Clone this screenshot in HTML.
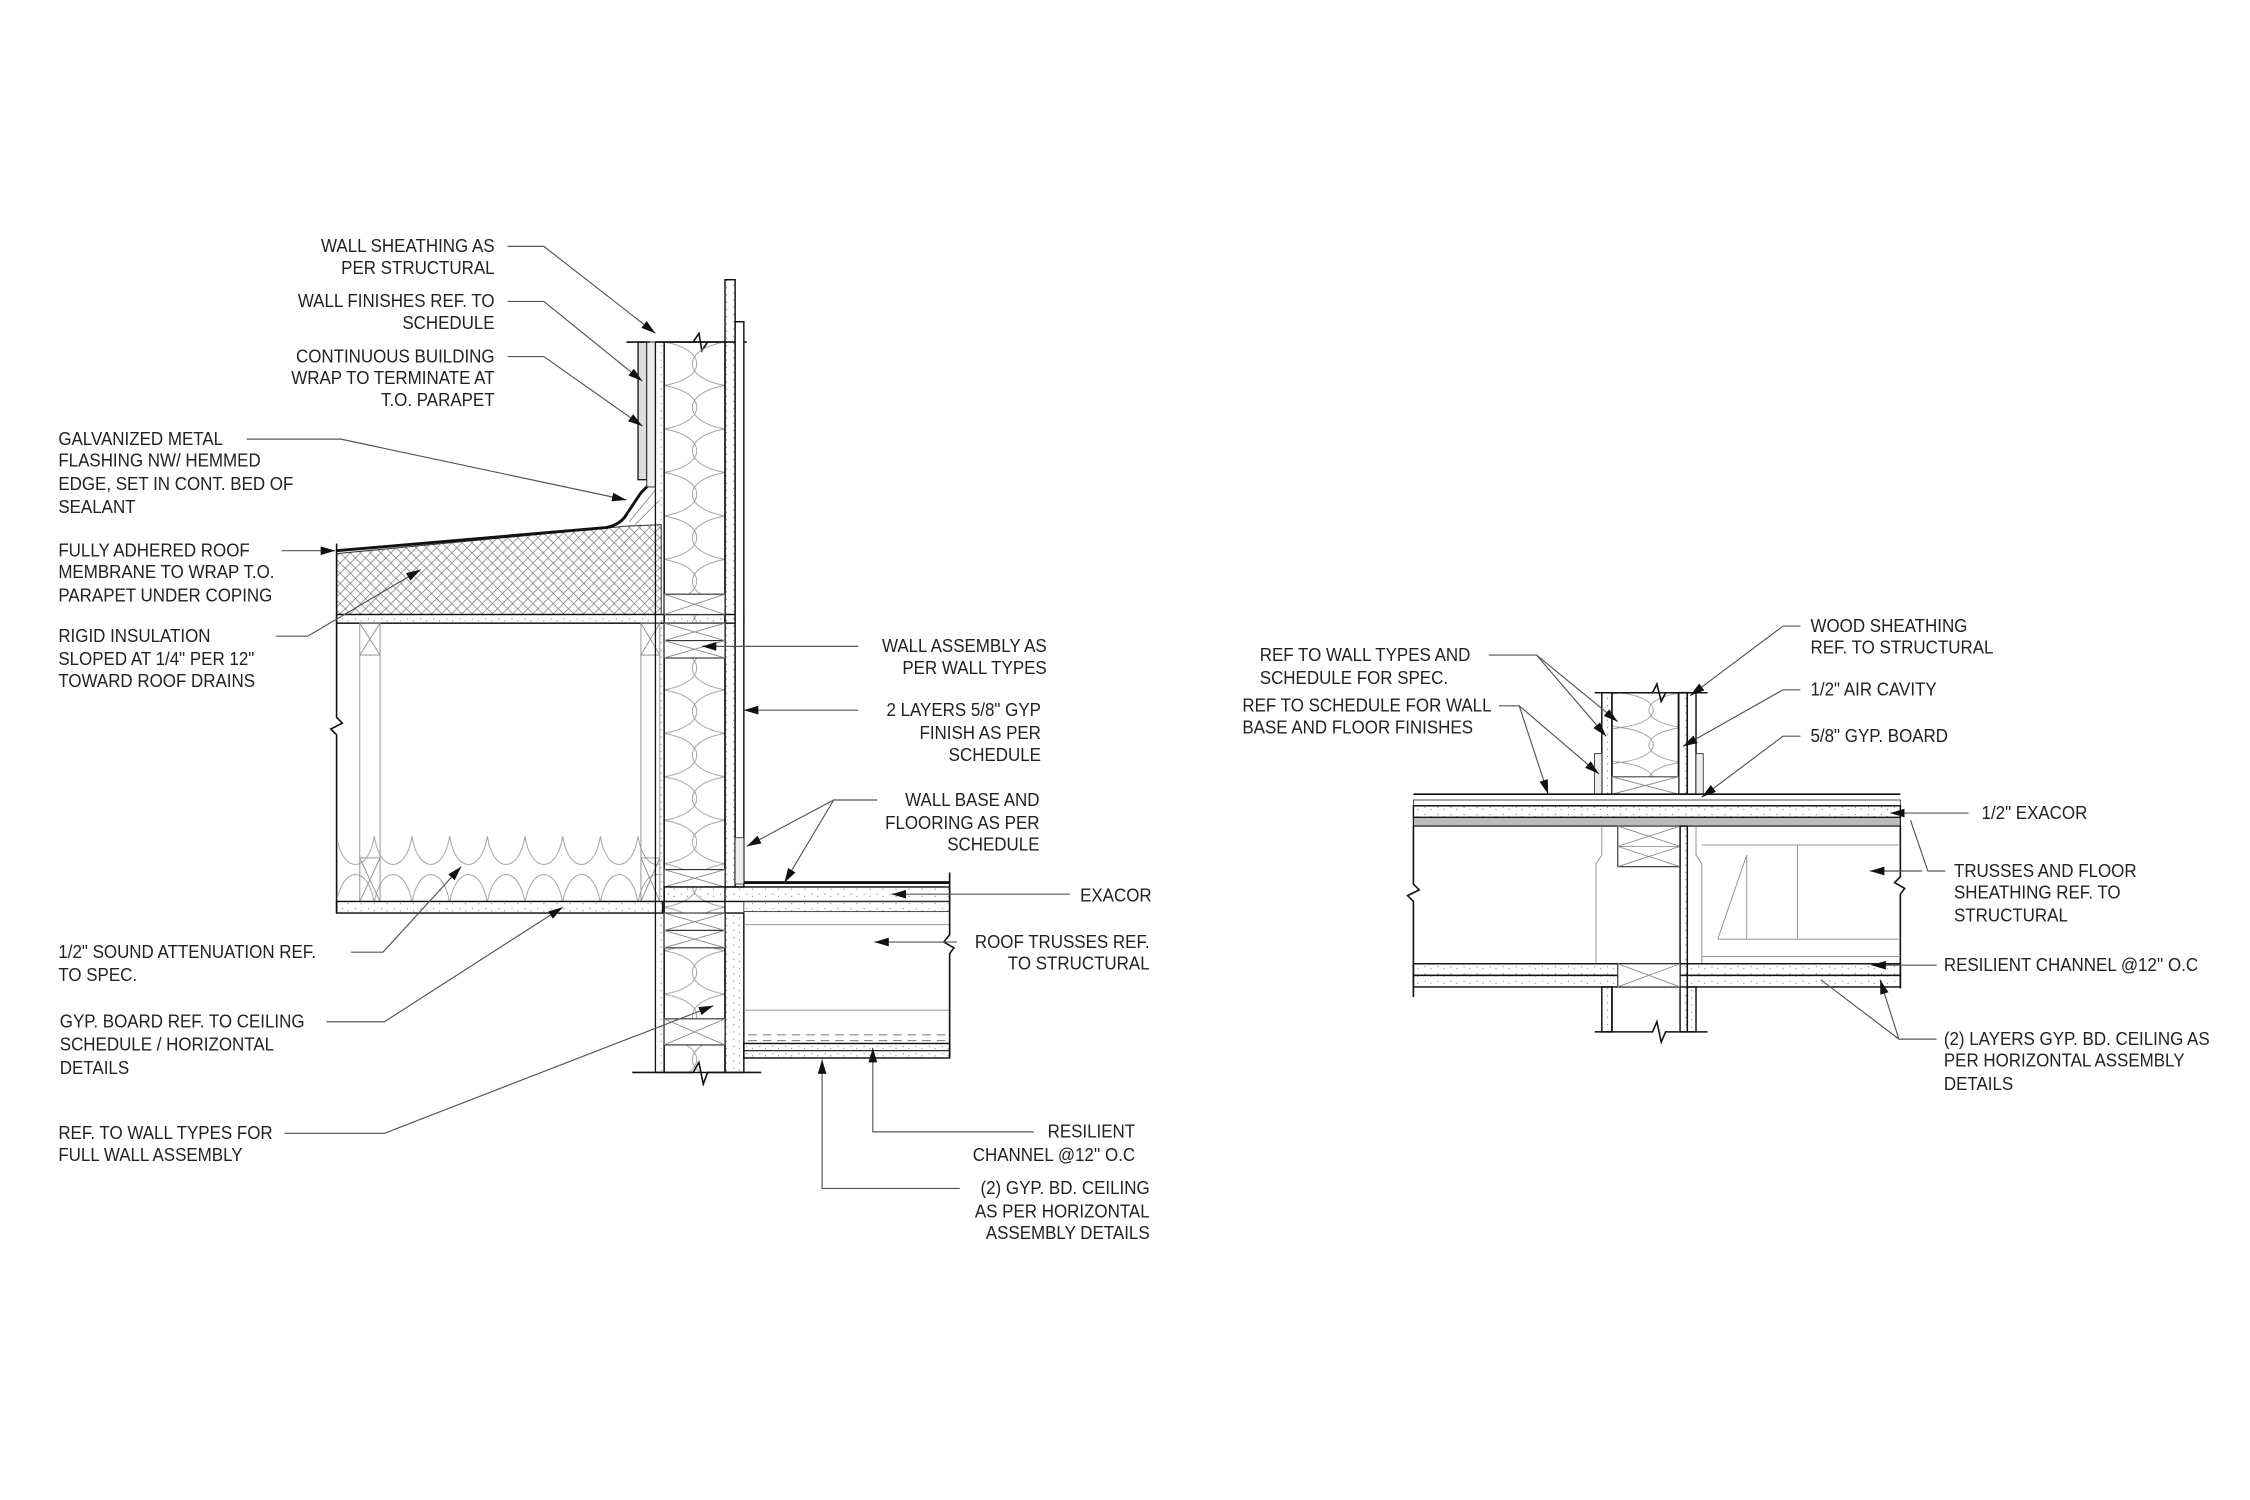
<!DOCTYPE html>
<html><head><meta charset="utf-8"><style>
html,body{margin:0;padding:0;background:#fff;}
svg{display:block;}
text{font-family:"Liberation Sans",sans-serif;font-size:13px;fill:#222;transform-box:fill-box;transform-origin:left center;transform:scaleX(0.9);}
text.r{text-anchor:end;transform-origin:right center;}
.ld{stroke:#555;stroke-width:0.8;fill:none;}
.k{stroke:#111;fill:none;stroke-width:1.1;}
.kb{stroke:#111;fill:none;stroke-width:2;}
.g{stroke:#888;fill:none;stroke-width:0.6;}
</style></head><body>
<svg width="2250" height="1500" viewBox="0 0 1552 1035" xmlns="http://www.w3.org/2000/svg">
<defs>
<pattern id="xh" width="7" height="7" patternUnits="userSpaceOnUse">
<path d="M0,0 L7,7 M7,0 L0,7" stroke="#777" stroke-width="0.5"/>
</pattern>
<pattern id="battv" x="458" y="236" width="42" height="30" patternUnits="userSpaceOnUse">
<path d="M0,0 C30,5 30,25 0,30 M42,0 C12,5 12,25 42,30" stroke="#999" stroke-width="0.6" fill="none"/>
</pattern>
<pattern id="batth" x="232" y="577" width="26" height="46" patternUnits="userSpaceOnUse">
<path d="M0,46 C4,20 22,20 26,46 M0,0 C4,26 22,26 26,0" stroke="#999" stroke-width="0.6" fill="none"/>
</pattern>
<pattern id="battr" x="1118" y="478" width="42" height="24" patternUnits="userSpaceOnUse">
<path d="M0,0 C30,4 30,20 0,24 M42,0 C12,4 12,20 42,24" stroke="#999" stroke-width="0.6" fill="none"/>
</pattern>
<pattern id="dots" width="9" height="5" patternUnits="userSpaceOnUse">
<circle cx="2" cy="2" r="0.4" fill="#777"/><circle cx="6" cy="3.5" r="0.4" fill="#777"/>
</pattern>
<marker id="a" markerWidth="10" markerHeight="6" refX="10" refY="3" orient="auto" markerUnits="userSpaceOnUse"><path d="M0,0 L10,3 L0,6 z" fill="#111"/></marker>
</defs>

<!-- ================= LEFT DETAIL ================= -->
<path d="M232,382 L432,363 L456,362 L456,424 L232,424 Z" fill="url(#xh)" stroke="#333" stroke-width="0.7"/>
<path d="M232,380 L418,364 Q428,362 432,355 L442,340 L447,335" class="kb"/>
<path d="M434,360 L452,338 M438,362 L455,345" class="g"/>
<rect x="232" y="424" width="281" height="6" fill="url(#dots)" stroke="#111" stroke-width="1"/>
<path d="M232,375 L232,495 L236,499 L228,503 L232,507 L232,630" class="k"/>
<rect x="248" y="430" width="14" height="192" class="g"/>
<path d="M248,430 L262,452 M262,430 L248,452 M248,452 L262,452 M248,592 L262,592 M248,592 L262,622 M262,592 L248,622" class="g"/>
<rect x="442" y="430" width="13" height="192" class="g"/>
<path d="M442,430 L455,452 M455,430 L442,452 M442,452 L455,452 M442,592 L455,592 M442,592 L455,622 M455,592 L442,622" class="g"/>
<rect x="233" y="577" width="222" height="45" fill="url(#batth)"/>
<rect x="232" y="622" width="225" height="8" fill="url(#dots)" stroke="#111" stroke-width="1"/>
<rect x="440" y="236" width="6" height="95" fill="#ddd" stroke="#111" stroke-width="0.9"/>
<rect x="446" y="236" width="6" height="100" fill="#eee" stroke="#333" stroke-width="0.7"/>
<path d="M432,236 L448,236 M452,236 L458,236 M458,236 L500,236 M500,236 L515,236" class="k"/>
<path d="M478,236 L482,230 L484,242 L488,236" class="k"/>
<rect x="452" y="236" width="6" height="504" fill="url(#dots)" stroke="#111" stroke-width="0.9"/>
<rect x="458" y="236" width="42" height="504" fill="url(#battv)" stroke="#111" stroke-width="1"/>
<rect x="500" y="193" width="7" height="419" fill="url(#dots)" stroke="#111" stroke-width="1"/>
<rect x="507" y="222" width="6" height="390" fill="#fff" stroke="#111" stroke-width="1"/>
<rect x="500" y="630" width="13" height="110" fill="url(#dots)" stroke="#111" stroke-width="1"/>
<g fill="#fff" stroke="#333" stroke-width="0.8">
<rect x="458" y="410" width="42" height="14"/><rect x="458" y="430" width="42" height="12"/><rect x="458" y="442" width="42" height="12"/>
<rect x="458" y="600" width="42" height="12"/><rect x="458" y="630" width="42" height="12"/><rect x="458" y="642" width="42" height="12"/>
<rect x="458" y="703" width="42" height="18"/>
</g>
<path d="M458,410 L500,424 M500,410 L458,424 M458,430 L500,442 M500,430 L458,442 M458,442 L500,454 M500,442 L458,454 M458,600 L500,612 M500,600 L458,612 M458,630 L500,642 M500,630 L458,642 M458,642 L500,654 M500,642 L458,654 M458,703 L500,721 M500,703 L458,721" class="g"/>
<rect x="507" y="578" width="6" height="32" fill="#eee" stroke="#333" stroke-width="0.6"/>
<path d="M513,609 L655,609" stroke="#111" stroke-width="2"/>
<rect x="458" y="612" width="197" height="10" fill="url(#dots)" stroke="#111" stroke-width="1"/>
<rect x="513" y="622" width="142" height="7" fill="url(#dots)" stroke="#333" stroke-width="0.6"/>
<path d="M513,638 L655,638 M513,697 L655,697" class="g"/>
<path d="M655,602 L655,645 L651,650 L658,654 L655,658 L655,730" class="k"/>
<path d="M516,714 L655,714 M516,718 L655,718" stroke="#888" stroke-width="0.8" stroke-dasharray="6,4"/>
<rect x="513" y="720" width="142" height="10" fill="url(#dots)" stroke="#111" stroke-width="1"/>
<path d="M513,725 L655,725" stroke="#111" stroke-width="0.8"/>
<path d="M436,740 L478,740 L482,733 L485,748 L488,740 L525,740" class="k"/>

<!-- left leaders -->
<path class="ld" d="M350,170 L375,170 L452,230" marker-end="url(#a)"/>
<path class="ld" d="M350,208 L375,208 L443,263" marker-end="url(#a)"/>
<path class="ld" d="M350,246 L375,246 L443,294" marker-end="url(#a)"/>
<path class="ld" d="M170,303 L235,303 L432,345" marker-end="url(#a)"/>
<path class="ld" d="M194,380 L231,380" marker-end="url(#a)"/>
<path class="ld" d="M190,439 L212,439 L290,393" marker-end="url(#a)"/>
<path class="ld" d="M242,657 L264,657 L318,598" marker-end="url(#a)"/>
<path class="ld" d="M225,705 L265,705 L388,626" marker-end="url(#a)"/>
<path class="ld" d="M196,782 L265,782 L492,694" marker-end="url(#a)"/>
<path class="ld" d="M592,446 L484,446" marker-end="url(#a)"/>
<path class="ld" d="M592,490 L513,490" marker-end="url(#a)"/>
<path class="ld" d="M605,552 L575,552 L515,584" marker-end="url(#a)"/>
<path class="ld" d="M575,552 L541,609" marker-end="url(#a)"/>
<path class="ld" d="M738,617 L615,617" marker-end="url(#a)"/>
<path class="ld" d="M660,650 L603,650" marker-end="url(#a)"/>
<path class="ld" d="M713,781 L602,781 L602,723" marker-end="url(#a)"/>
<path class="ld" d="M662,820 L567,820 L567,731" marker-end="url(#a)"/>

<!-- left labels -->
<text class="r" x="341" y="174">WALL SHEATHING AS</text>
<text class="r" x="341" y="189">PER STRUCTURAL</text>
<text class="r" x="341" y="212">WALL FINISHES REF. TO</text>
<text class="r" x="341" y="227">SCHEDULE</text>
<text class="r" x="341" y="250">CONTINUOUS BUILDING</text>
<text class="r" x="341" y="265">WRAP TO TERMINATE AT</text>
<text class="r" x="341" y="280">T.O. PARAPET</text>
<text x="40" y="307">GALVANIZED METAL</text>
<text x="40" y="322">FLASHING NW/ HEMMED</text>
<text x="40" y="338">EDGE, SET IN CONT. BED OF</text>
<text x="40" y="354">SEALANT</text>
<text x="40" y="384">FULLY ADHERED ROOF</text>
<text x="40" y="399">MEMBRANE TO WRAP T.O.</text>
<text x="40" y="415">PARAPET UNDER COPING</text>
<text x="40" y="443">RIGID INSULATION</text>
<text x="40" y="459">SLOPED AT 1/4" PER 12"</text>
<text x="40" y="474">TOWARD ROOF DRAINS</text>
<text x="40" y="661">1/2" SOUND ATTENUATION REF.</text>
<text x="40" y="677">TO SPEC.</text>
<text x="41" y="709">GYP. BOARD REF. TO CEILING</text>
<text x="41" y="725">SCHEDULE / HORIZONTAL</text>
<text x="41" y="741">DETAILS</text>
<text x="40" y="786">REF. TO WALL TYPES FOR</text>
<text x="40" y="801">FULL WALL ASSEMBLY</text>
<text class="r" x="722" y="450">WALL ASSEMBLY  AS</text>
<text class="r" x="722" y="465">PER WALL  TYPES</text>
<text class="r" x="718" y="494">2 LAYERS 5/8" GYP</text>
<text class="r" x="718" y="510">FINISH AS PER</text>
<text class="r" x="718" y="525">SCHEDULE</text>
<text class="r" x="717" y="556">WALL BASE AND</text>
<text class="r" x="717" y="572">FLOORING AS PER</text>
<text class="r" x="717" y="587">SCHEDULE</text>
<text x="745" y="622">EXACOR</text>
<text class="r" x="793" y="654">ROOF TRUSSES REF.</text>
<text class="r" x="793" y="669">TO STRUCTURAL</text>
<text class="r" x="783" y="785">RESILIENT</text>
<text class="r" x="783" y="801">CHANNEL @12'' O.C</text>
<text class="r" x="793" y="824">(2) GYP. BD. CEILING</text>
<text class="r" x="793" y="840">AS PER HORIZONTAL</text>
<text class="r" x="793" y="855">ASSEMBLY DETAILS</text>

<!-- ================= RIGHT DETAIL ================= -->
<rect x="1105" y="478" width="7" height="70" fill="url(#dots)" stroke="#111" stroke-width="1"/>
<rect x="1112" y="478" width="46" height="70" fill="url(#battr)" stroke="#111" stroke-width="1"/>
<rect x="1158" y="478" width="6" height="70" fill="url(#dots)" stroke="#111" stroke-width="1.2"/>
<rect x="1164" y="478" width="6" height="70" fill="#fff" stroke="#111" stroke-width="1"/>
<path d="M1100,478 L1140,478 L1143,472 L1146,484 L1149,478 L1178,478" class="k"/>
<rect x="1112" y="536" width="46" height="12" fill="#fff" stroke="#333" stroke-width="0.7"/>
<path d="M1112,536 L1158,548 M1158,536 L1112,548" class="g"/>
<rect x="1100" y="520" width="5" height="28" fill="#eee" stroke="#333" stroke-width="0.6"/>
<rect x="1170" y="520" width="5" height="28" fill="#eee" stroke="#333" stroke-width="0.6"/>
<path d="M975,548 L1311,548" class="k"/>
<rect x="975" y="552" width="336" height="4" fill="#fff" stroke="#333" stroke-width="0.6"/>
<rect x="975" y="556" width="336" height="8" fill="url(#dots)" stroke="#111" stroke-width="1"/>
<rect x="975" y="564" width="336" height="6" fill="#bbb" stroke="#111" stroke-width="0.8"/>
<path d="M975,570 L975,610 L979,614 L971,618 L975,622 L975,688" class="k"/>
<path d="M1311,570 L1311,605 L1307,609 L1314,613 L1311,617 L1311,682" class="k"/>
<path d="M1105,570 L1105,590 L1101,596 L1101,665 M1170,570 L1170,590 L1174,596 L1174,665 M1174,583 L1311,583 M1174,660 L1311,660 M1185,648 L1205,590 M1205,590 L1205,648 M1240,583 L1240,648 M1185,648 L1311,648" class="g"/>
<rect x="1116" y="570" width="43" height="28" fill="#fff" stroke="#333" stroke-width="0.8"/>
<path d="M1116,570 L1159,584 M1159,570 L1116,584 M1116,584 L1159,598 M1159,584 L1116,598 M1116,584 L1159,584" class="g"/>
<rect x="1159" y="570" width="5" height="142" fill="url(#dots)" stroke="#111" stroke-width="1"/>
<rect x="975" y="665" width="336" height="8" fill="url(#dots)" stroke="#111" stroke-width="1"/>
<rect x="975" y="673" width="336" height="8" fill="url(#dots)" stroke="#111" stroke-width="1"/>
<rect x="1116" y="665" width="43" height="16" fill="#fff" stroke="#333" stroke-width="0.8"/>
<path d="M1116,665 L1159,681 M1159,665 L1116,681" class="g"/>
<rect x="1105" y="681" width="7" height="31" fill="url(#dots)" stroke="#111" stroke-width="1"/>
<rect x="1164" y="681" width="6" height="31" fill="url(#dots)" stroke="#111" stroke-width="1"/>
<path d="M1112,681 L1112,712 M1100,712 L1140,712 L1143,705 L1146,719 L1149,712 L1178,712" class="k"/>

<!-- right leaders -->
<path class="ld" d="M1027,452 L1060,452 L1116,498" marker-end="url(#a)"/>
<path class="ld" d="M1060,452 L1108,508" marker-end="url(#a)"/>
<path class="ld" d="M1034,487 L1048,487 L1068,548" marker-end="url(#a)"/>
<path class="ld" d="M1048,487 L1103,534" marker-end="url(#a)"/>
<path class="ld" d="M1242,432 L1230,432 L1166,480" marker-end="url(#a)"/>
<path class="ld" d="M1242,476 L1230,476 L1161,515" marker-end="url(#a)"/>
<path class="ld" d="M1242,508 L1230,508 L1174,550" marker-end="url(#a)"/>
<path class="ld" d="M1358,561 L1304,561" marker-end="url(#a)"/>
<path class="ld" d="M1342,601 L1330,601 L1318,566 M1326,601 L1290,601" marker-end="url(#a)"/>
<path class="ld" d="M1336,666 L1291,666" marker-end="url(#a)"/>
<path class="ld" d="M1336,717 L1310,717 L1256,676 M1310,717 L1297,676" marker-end="url(#a)"/>

<!-- right labels -->
<text x="869" y="456">REF TO WALL TYPES AND</text>
<text x="869" y="472">SCHEDULE FOR SPEC.</text>
<text x="857" y="491">REF TO SCHEDULE FOR WALL</text>
<text x="857" y="506">BASE AND FLOOR FINISHES</text>
<text x="1249" y="436">WOOD SHEATHING</text>
<text x="1249" y="451">REF. TO STRUCTURAL</text>
<text x="1249" y="480">1/2" AIR CAVITY</text>
<text x="1249" y="512">5/8" GYP. BOARD</text>
<text x="1367" y="565">1/2" EXACOR</text>
<text x="1348" y="605">TRUSSES AND FLOOR</text>
<text x="1348" y="620">SHEATHING REF. TO</text>
<text x="1348" y="636">STRUCTURAL</text>
<text x="1341" y="670">RESILIENT CHANNEL @12'' O.C</text>
<text x="1341" y="721">(2) LAYERS GYP. BD. CEILING AS</text>
<text x="1341" y="736">PER HORIZONTAL ASSEMBLY</text>
<text x="1341" y="752">DETAILS</text>
</svg>
</body></html>
